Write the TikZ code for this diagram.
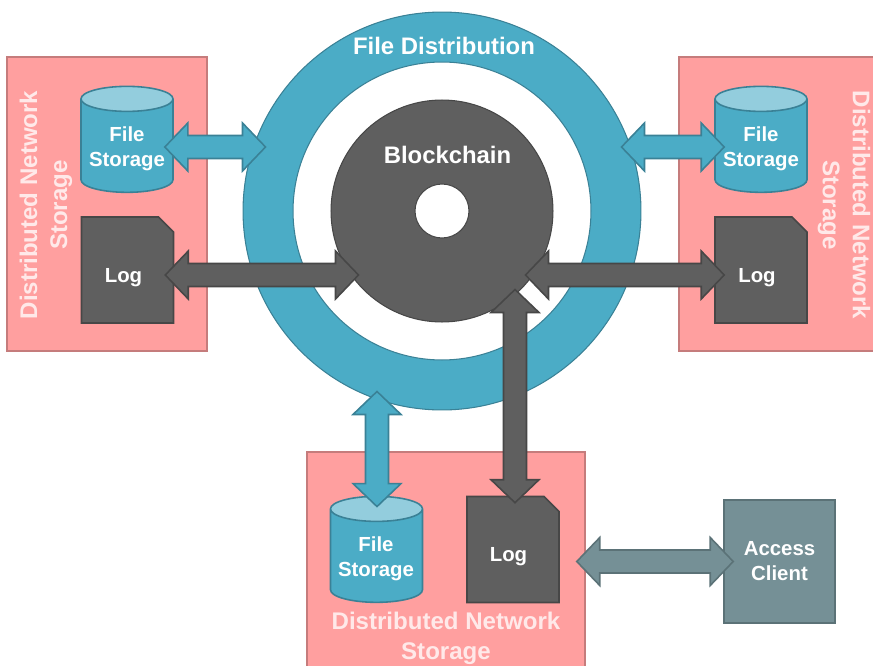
\documentclass[tikz,border=0pt]{standalone}
\usepackage{fontspec}
\setmainfont{Liberation Sans}
\usetikzlibrary{calc,shapes.geometric,shapes.misc}
\definecolor{ringblue}{HTML}{4BACC6}
\definecolor{ringline}{HTML}{3A8196}
\definecolor{lidblue}{HTML}{93CDDD}
\definecolor{chaingray}{HTML}{5F5F5F}
\definecolor{chainline}{HTML}{474747}
\definecolor{netpink}{HTML}{FF9F9F}
\definecolor{netline}{HTML}{C57C7C}
\definecolor{nettext}{HTML}{FFE9E9}
\definecolor{clientgray}{HTML}{759096}
\definecolor{clientline}{HTML}{5B7277}
\tikzset{
  disc/.style={circle,inner sep=0pt,line width=0.6pt},
  netbox/.style={rectangle,inner sep=0pt,fill=netpink,draw=netline,line width=0.9pt,
    minimum width=4cm,minimum height=5.88cm},
  nettitle/.style={align=center,text=nettext,font=\bfseries\fontsize{13.7}{17}\selectfont},
  boldtext/.style={align=center,text=white,font=\bfseries\fontsize{11.6}{14.2}\selectfont},
  bigtext/.style={text=white,font=\bfseries\fontsize{13.6}{17}\selectfont},
  filebox/.style={cylinder,shape border rotate=90,aspect=0.33,inner sep=0pt,boldtext,
    minimum width=1.84cm,minimum height=2.12cm,draw=ringline,line width=0.9pt,
    cylinder uses custom fill,cylinder body fill=ringblue,cylinder end fill=lidblue},
  logbox/.style={chamfered rectangle,chamfered rectangle corners=north east,boldtext,
    chamfered rectangle xsep=0.15cm,chamfered rectangle ysep=0.15cm,inner sep=0pt,
    minimum width=1.84cm,minimum height=2.12cm,fill=chaingray,draw=chainline,line width=0.9pt},
  blockarrow/.style={line width=0.9pt,to path={
    -- ($(\tikztostart)!.46cm!(\tikztotarget)!.48cm!90:(\tikztotarget)$)
    -- ($(\tikztostart)!.46cm!(\tikztotarget)!.23cm!90:(\tikztotarget)$)
    -- ($(\tikztotarget)!.46cm!(\tikztostart)!.23cm!-90:(\tikztostart)$)
    -- ($(\tikztotarget)!.46cm!(\tikztostart)!.48cm!-90:(\tikztostart)$)
    -- (\tikztotarget)
    -- ($(\tikztotarget)!.46cm!(\tikztostart)!.48cm!90:(\tikztostart)$)
    -- ($(\tikztotarget)!.46cm!(\tikztostart)!.23cm!90:(\tikztostart)$)
    -- ($(\tikztostart)!.46cm!(\tikztotarget)!.23cm!-90:(\tikztotarget)$)
    -- ($(\tikztostart)!.46cm!(\tikztotarget)!.48cm!-90:(\tikztotarget)$)
    -- cycle}},
  bluearrow/.style={blockarrow,fill=ringblue,draw=ringline},
  darkarrow/.style={blockarrow,fill=chaingray,draw=chainline},
  grayarrow/.style={blockarrow,fill=clientgray,draw=clientline}
}
\begin{document}
\begin{tikzpicture}[x=0.02cm,y=-0.02cm]
  \useasboundingbox (0,0) rectangle (873,666);
  % rings
  \node[disc,fill=ringblue,draw=ringline,minimum size=7.96cm] (ring) at (442,211) {};
  \node[disc,fill=white,draw=ringline,minimum size=5.96cm] (gap) at (442,211) {};
  \node[disc,fill=chaingray,draw=chainline,minimum size=4.44cm] (chain) at (442,211) {};
  \node[disc,fill=white,draw=chainline,minimum size=1.08cm] (hole) at (442,211) {};
  \node[bigtext] (ringtext) at (444,46) {File Distribution};
  \node[bigtext] (chaintext) at (447.5,155) {Blockchain};
  % storage boxes
  \node[netbox] (netL) at (107,204) {};
  \node[netbox] (netR) at (779,204) {};
  \node[netbox,minimum width=5.56cm,minimum height=5cm] (netB) at (446,577) {};
  \node[nettitle,rotate=90] (netLtext) at (46,205) {Distributed Network\\Storage};
  \node[nettitle,rotate=-90] (netRtext) at (844,205) {Distributed Network\\Storage};
  \node[nettitle] (netBtext) at (446,638) {Distributed Network\\Storage};
  \node[filebox] (fileL) at (127,146) {\phantom{File}\\\phantom{Storage}};
  \node[filebox] (fileR) at (761,146) {\phantom{File}\\\phantom{Storage}};
  \node[filebox] (fileB) at (376.5,556) {\phantom{File}\\\phantom{Storage}};
  \node[logbox] (logL) at (127.5,270) {\phantom{Log}};
  \node[logbox] (logR) at (761,270) {\phantom{Log}};
  \node[logbox] (logB) at (513,549.5) {\phantom{Log}};
  \node[rectangle,inner sep=0pt,fill=clientgray,draw=clientline,line width=0.9pt,boldtext,
    minimum width=2.22cm,minimum height=2.46cm] (client) at (779.5,561.5) {Access\\Client};
  % arrows
  \draw[bluearrow] ([shift={(-9,1)}]fileL.east) to ([shift={(23,-64)}]ring.west);
  \draw[bluearrow] ([shift={(-20,-64)}]ring.east) to ([shift={(10,1)}]fileR.west);
  \draw[bluearrow] ([shift={(-65,-19)}]ring.south) to ([shift={(0.5,11)}]fileB.north);
  \draw[darkarrow] ([shift={(-9,5)}]logL.east) to ([shift={(28,64)}]chain.west);
  \draw[darkarrow] ([shift={(-28,64)}]chain.east) to ([shift={(10,5)}]logR.west);
  \draw[darkarrow] ([shift={(73,-33)}]chain.south) to ([shift={(2,7)}]logB.north);
  \draw[grayarrow] ([shift={(17,12)}]logB.east) to ([shift={(10,0)}]client.west);
  % labels
  \node[boldtext] (fileLtext) at (127,149) {File\\Storage};
  \node[boldtext] (fileRtext) at (761,149) {File\\Storage};
  \node[boldtext] (fileBtext) at (376,559) {File\\Storage};
  \node[boldtext] (logLtext) at (123.5,278) {Log};
  \node[boldtext] (logRtext) at (757,278) {Log};
  \node[boldtext] (logBtext) at (508.5,557) {Log};
\end{tikzpicture}
\end{document}
